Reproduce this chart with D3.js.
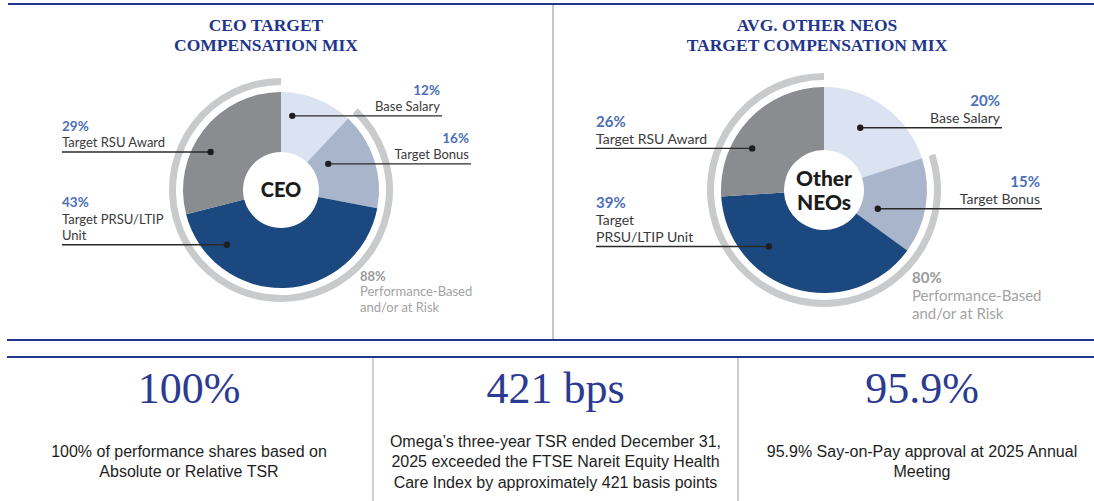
<!DOCTYPE html>
<html>
<head>
<meta charset="utf-8">
<script src="https://cdn.jsdelivr.net/npm/d3@7"></script>
<style>
  html, body { margin: 0; padding: 0; background: #fff; }
  svg { display: block; }
</style>
</head>
<body>
<svg id="chart" width="1094" height="501"></svg>
<script>
// ---- Data -------------------------------------------------------------
const categories = ["Base Salary", "Target Bonus", "Target PRSU/LTIP Unit", "Target RSU Award"];
const ceoValues = [12, 16, 43, 29];
const neoValues = [20, 15, 39, 26];
const ceoAtRisk = 88;
const neoAtRisk = 80;
const atRiskLabel = ["Performance-Based", "and/or at Risk"];
const ceoLabelLines = [["Base Salary"], ["Target Bonus"], ["Target PRSU/LTIP", "Unit"], ["Target RSU Award"]];
const neoLabelLines = [["Base Salary"], ["Target Bonus"], ["Target", "PRSU/LTIP Unit"], ["Target RSU Award"]];
const panelTitles = [["CEO TARGET", "COMPENSATION MIX"], ["AVG. OTHER NEOS", "TARGET COMPENSATION MIX"]];
const centerLabels = [["CEO"], ["Other", "NEOs"]];
const highlightValues = ["100%", "421 bps", "95.9%"];
const highlightText = [
  ["100% of performance shares based on", "Absolute or Relative TSR"],
  ["Omega\u2019s three-year TSR ended December 31,", "2025 exceeded the FTSE Nareit Equity Health", "Care Index by approximately 421 basis points"],
  ["95.9% Say-on-Pay approval at 2025 Annual", "Meeting"]
];

// ---- Style ------------------------------------------------------------
const sliceColors = d3.scaleOrdinal().domain(categories)
  .range(["#dbe3f2", "#a8b5ca", "#1b497f", "#8b8c8f"]);
const navy = "#22358c";
const pctBlue = "#4b6fb6";
const labelFont = "Lato, 'Noto Sans', sans-serif";

const svg = d3.select("#chart");

// ---- Frame lines ------------------------------------------------------
svg.append("line").attr("x1", 8).attr("x2", 1094).attr("y1", 4).attr("y2", 4)
  .attr("stroke", navy).attr("stroke-width", 2);
svg.append("line").attr("x1", 553).attr("x2", 553).attr("y1", 5).attr("y2", 339)
  .attr("stroke", "#b9b9b9").attr("stroke-width", 1.6);
svg.append("line").attr("x1", 7).attr("x2", 1094).attr("y1", 340).attr("y2", 340)
  .attr("stroke", navy).attr("stroke-width", 2);
svg.append("line").attr("x1", 7).attr("x2", 1094).attr("y1", 357).attr("y2", 357)
  .attr("stroke", navy).attr("stroke-width", 2);
[373, 738].forEach(x => {
  svg.append("line").attr("x1", x).attr("x2", x).attr("y1", 358).attr("y2", 501)
    .attr("stroke", "#c4c4c4").attr("stroke-width", 1.6);
});

// ---- Donut panels -----------------------------------------------------
const panels = [
  {
    values: ceoValues, atRisk: ceoAtRisk, lines: ceoLabelLines,
    title: panelTitles[0], titleX: 266, center: centerLabels[0],
    cx: 281, cy: 190, r0: 38, r1: 98, ring0: 105, ring1: 112,
    fs: 13, pfs: 13.5, lh: 16.5, cfs: 20,
    // leader layout per slice: position of the dot inside the slice (fraction
    // of the slice's angle, radius), side of the label and x end of the leader
    leaders: [
      { f: 0.20, r: 75, side: "right", x: 442 },
      { f: 0.31, r: 54, side: "right", x: 471 },
      { f: 0.80, r: 77, side: "left",  x: 62 },
      { f: 0.41, r: 80, side: "left",  x: 62 }
    ],
    riskX: 360, riskY: 276, riskFs: 13, riskLh: 15.5
  },
  {
    values: neoValues, atRisk: neoAtRisk, lines: neoLabelLines,
    title: panelTitles[1], titleX: 817, center: centerLabels[1],
    cx: 824, cy: 190, r0: 40, r1: 103, ring0: 110, ring1: 117,
    fs: 14, pfs: 15, lh: 17, cfs: 21,
    leaders: [
      { f: 0.42, r: 72, side: "right", x: 1002 },
      { f: 0.69, r: 57, side: "right", x: 1042 },
      { f: 0.70, r: 79, side: "left",  x: 596 },
      { f: 0.36, r: 83, side: "left",  x: 596 }
    ],
    riskX: 912, riskY: 278, riskFs: 15, riskLh: 18
  }
];

const pie = d3.pie().sort(null).value(d => d);

panels.forEach(p => {
  const g = svg.append("g");

  // title
  g.append("text")
    .attr("x", p.titleX).attr("y", 31)
    .attr("text-anchor", "middle")
    .attr("font-family", "'Liberation Serif', 'Times New Roman', serif")
    .attr("font-weight", "bold").attr("font-size", 17.5).attr("fill", navy)
    .selectAll("tspan").data(p.title).join("tspan")
    .attr("x", p.titleX).attr("dy", (d, i) => i === 0 ? 0 : 20)
    .text(d => d);

  const chart = g.append("g").attr("transform", `translate(${p.cx},${p.cy})`);
  const arcs = pie(p.values);

  // outer ring marking the performance-based share (everything except base salary)
  const total = d3.sum(p.values);
  const angle = d3.scaleLinear().domain([0, total]).range([0, 2 * Math.PI]);
  const ringStart = angle(total - p.atRisk);
  chart.append("path")
    .attr("d", d3.arc().innerRadius(p.ring0).outerRadius(p.ring1)
      .startAngle(ringStart).endAngle(2 * Math.PI)())
    .attr("fill", "#c9cacc");

  // slices
  const arc = d3.arc().innerRadius(p.r0).outerRadius(p.r1);
  chart.selectAll("path.slice").data(arcs).join("path")
    .attr("class", "slice")
    .attr("d", arc)
    .attr("fill", (d, i) => sliceColors(categories[i]));

  // centre label
  const cl = p.center;
  chart.append("text")
    .attr("text-anchor", "middle")
    .attr("font-family", labelFont).attr("font-weight", 900)
    .attr("font-size", p.cfs).attr("fill", "#1c1c1c")
    .selectAll("tspan").data(cl).join("tspan")
    .attr("x", 0)
    .attr("y", (d, i) => (i - (cl.length - 1) / 2) * p.cfs * 1.15 + p.cfs * 0.36)
    .text(d => d);

  // leaders and labels
  arcs.forEach((a, i) => {
    const L = p.leaders[i];
    const ang = a.startAngle + (a.endAngle - a.startAngle) * L.f;
    const dx = p.cx + L.r * Math.sin(ang);
    const dy = p.cy - L.r * Math.cos(ang);

    g.append("line")
      .attr("x1", dx).attr("y1", dy).attr("x2", L.x).attr("y2", dy)
      .attr("stroke", "#2a2a2a").attr("stroke-width", 1.4);
    g.append("circle").attr("cx", dx).attr("cy", dy).attr("r", 3.2).attr("fill", "#1e1e1e");

    const right = L.side === "right";
    const tx = right ? L.x - 2 : L.x;
    const anchor = right ? "end" : "start";
    const lines = p.lines[i];
    const baseY = dy - 4.5;
    lines.slice().reverse().forEach((t, k) => {
      g.append("text")
        .attr("x", tx).attr("y", baseY - k * p.lh)
        .attr("text-anchor", anchor)
        .attr("font-family", labelFont).attr("font-size", p.fs)
        .attr("fill", "#3a3a3a").text(t);
    });
    g.append("text")
      .attr("x", tx).attr("y", baseY - lines.length * p.lh)
      .attr("text-anchor", anchor)
      .attr("font-family", labelFont).attr("font-weight", "bold")
      .attr("font-size", p.pfs).attr("fill", pctBlue)
      .text(`${p.values[i]}%`);
  });

  // performance-based share label
  const risk = g.append("text")
    .attr("font-family", labelFont).attr("font-size", p.riskFs).attr("fill", "#a3a3a3");
  risk.append("tspan").attr("x", p.riskX).attr("y", p.riskY + p.riskFs * 0.36)
    .attr("font-weight", "bold").attr("fill", "#9a9a9a").text(`${p.atRisk}%`);
  atRiskLabel.forEach((t, k) => {
    risk.append("tspan").attr("x", p.riskX)
      .attr("y", p.riskY + p.riskFs * 0.36 + (k + 1) * p.riskLh).text(t);
  });
});

// ---- Highlight row ----------------------------------------------------
const colX = d3.scalePoint().domain(d3.range(highlightValues.length)).range([189, 922]);

highlightValues.forEach((v, i) => {
  svg.append("text")
    .attr("x", colX(i)).attr("y", 403)
    .attr("text-anchor", "middle")
    .attr("font-family", "'Liberation Serif', 'Times New Roman', serif")
    .attr("font-size", 44).attr("fill", "#2b3a92")
    .text(v);

  const lines = highlightText[i];
  const lh = 20.5;
  const mid = 467;
  lines.forEach((t, k) => {
    svg.append("text")
      .attr("x", colX(i))
      .attr("y", mid + (k - (lines.length - 1) / 2) * lh)
      .attr("text-anchor", "middle")
      .attr("font-family", "'Liberation Sans', Arial, sans-serif")
      .attr("font-size", 16).attr("fill", "#1e1e1e")
      .text(t);
  });
});
</script>
</body>
</html>
